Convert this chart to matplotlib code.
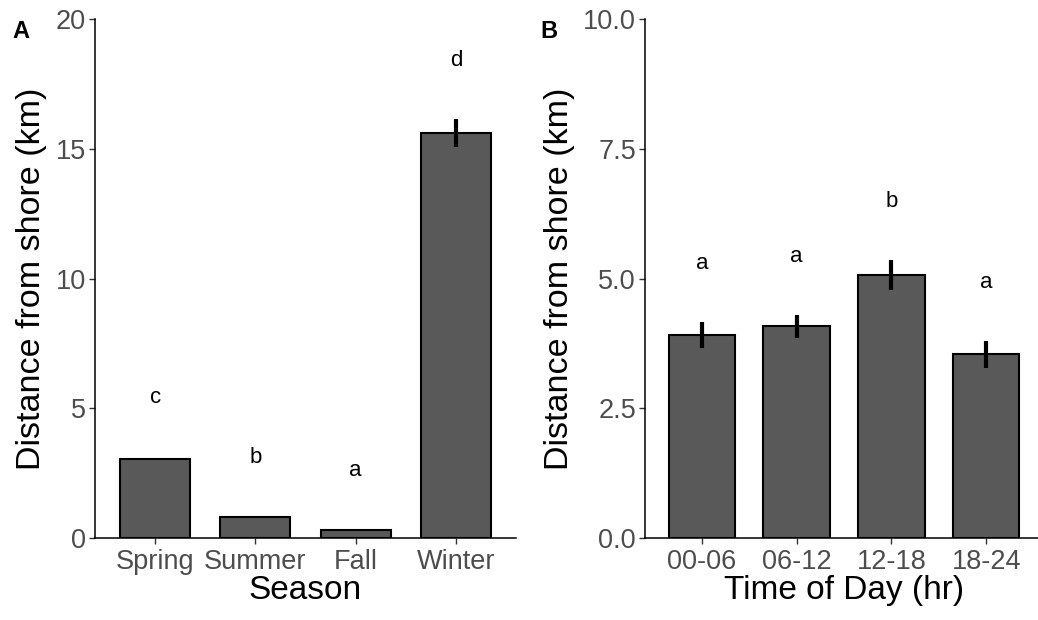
import matplotlib.pyplot as plt
import numpy as np

plt.rcParams['font.family'] = ['Liberation Sans', 'DejaVu Sans']

# panel A: distance from shore by season
seasons = ["Spring", "Summer", "Fall", "Winter"]
season_mean = [3.04, 0.82, 0.31, 15.6]
season_se = [0.05, 0.0, 0.0, 0.55]
season_letters = ["c", "b", "a", "d"]
season_letter_y = [5.4, 3.1, 2.6, 18.4]

# panel B: distance from shore by time of day
hours = ["00-06", "06-12", "12-18", "18-24"]
hour_mean = [3.91, 4.08, 5.07, 3.54]
hour_se = [0.25, 0.22, 0.29, 0.26]
hour_letters = ["a", "a", "b", "a"]
hour_letter_y = [5.29, 5.43, 6.48, 4.93]

BAR_FILL = "#595959"
TICK_GREY = "#4D4D4D"


def draw_panel(ax, cats, means, errs, letters, letter_y, ymax, yticks, ytick_labels, xlabel):
    x = np.arange(1, len(cats) + 1)
    ax.bar(x, means, width=0.7, color=BAR_FILL, edgecolor="black", linewidth=1.5, zorder=2)
    ax.errorbar(x, means, yerr=errs, fmt="none", ecolor="black", elinewidth=3, capsize=0, zorder=3)
    for xi, lab, ly in zip(x, letters, letter_y):
        ax.text(xi, ly, lab, ha="center", va="center", fontsize=16, color="black")

    ax.set_xlim(0.4, len(cats) + 0.6)
    ax.set_ylim(0, ymax)
    ax.set_xticks(x)
    ax.set_xticklabels(cats)
    ax.set_yticks(yticks)
    ax.set_yticklabels(ytick_labels)
    ax.tick_params(axis="both", labelsize=19.5, labelcolor=TICK_GREY, length=4.5, width=1.0,
                   color="#333333", pad=2)
    ax.tick_params(axis="x", pad=3.5)
    ax.set_xlabel(xlabel, fontsize=24, labelpad=0)
    ax.set_ylabel("Distance from shore (km)", fontsize=24.5, labelpad=6)
    for side in ("top", "right"):
        ax.spines[side].set_visible(False)
    for side in ("left", "bottom"):
        ax.spines[side].set_linewidth(1.1)
        ax.spines[side].set_color("black")


fig = plt.figure(figsize=(10.38, 6.2), dpi=100)
ax_a = fig.add_axes([95 / 1038, 1 - 538 / 620, 421 / 1038, 519 / 620])
ax_b = fig.add_axes([645 / 1038, 1 - 538 / 620, 398 / 1038, 519 / 620])

draw_panel(ax_a, seasons, season_mean, season_se, season_letters, season_letter_y,
           20, [0, 5, 10, 15, 20], ["0", "5", "10", "15", "20"], "Season")
draw_panel(ax_b, hours, hour_mean, hour_se, hour_letters, hour_letter_y,
           10, [0, 2.5, 5, 7.5, 10], ["0.0", "2.5", "5.0", "7.5", "10.0"], "Time of Day (hr)")

fig.text(12 / 1038, 1 - 32 / 620, "A", fontsize=17, fontweight="bold", va="center", ha="left")
fig.text(540 / 1038, 1 - 32 / 620, "B", fontsize=17, fontweight="bold", va="center", ha="left")

fig.savefig("out.png", dpi=100)
